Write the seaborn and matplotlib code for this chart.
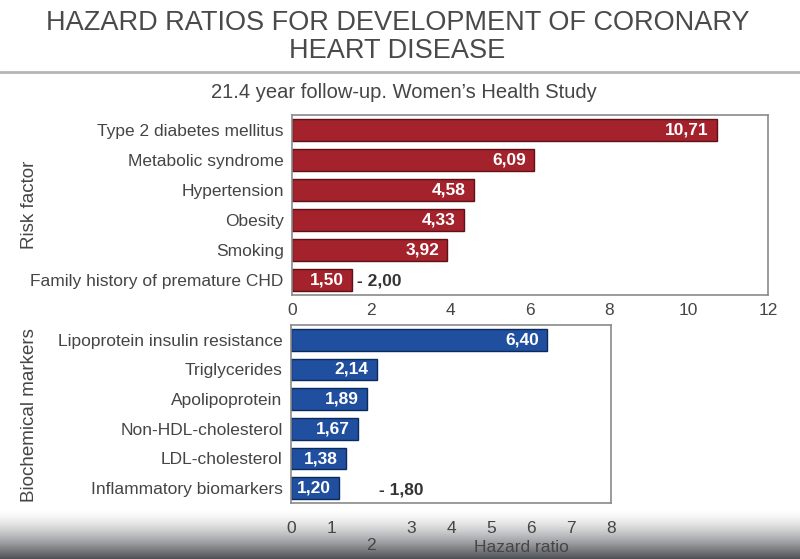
import numpy as np
import pandas as pd
import seaborn as sns
import matplotlib.pyplot as plt

# values
risk_factors = ["Type 2 diabetes mellitus", "Metabolic syndrome", "Hypertension",
                "Obesity", "Smoking", "Family history of premature CHD"]
risk_hr = [10.71, 6.09, 4.58, 4.33, 3.92, 1.50]
risk_upper = {"Family history of premature CHD": 2.00}

markers = ["Lipoprotein insulin resistance", "Triglycerides", "Apolipoprotein",
           "Non-HDL-cholesterol", "LDL-cholesterol", "Inflammatory biomarkers"]
marker_hr = [6.40, 2.14, 1.89, 1.67, 1.38, 1.20]
marker_upper = {"Inflammatory biomarkers": 1.80}

top_ticks = [0, 2, 4, 6, 8, 10, 12]
bottom_ticks = [0, 1, 2, 3, 4, 5, 6, 7, 8]

sns.set_style("white")
plt.rcParams["font.family"] = ["Liberation Sans", "DejaVu Sans"]

TXT = "#454545"
RED, RED_EDGE = "#a3222b", "#5e1116"
BLUE, BLUE_EDGE = "#1f4f9e", "#0c2a5c"


def fmt(v):
    return f"{v:.2f}".replace(".", ",")


fig = plt.figure(figsize=(8, 5.59), dpi=100)

fig.text(0.497, 1 - 37 / 559, "HAZARD RATIOS FOR DEVELOPMENT OF CORONARY\nHEART DISEASE",
         ha="center", va="center", fontsize=19.5, color="#4a4a4a", linespacing=1.08)
fig.add_artist(plt.Line2D([0, 1], [1 - 72 / 559] * 2, color="#b5b5b5", lw=2))
fig.text(0.505, 1 - 92 / 559, "21.4 year follow-up. Women\u2019s Health Study",
         ha="center", va="center", fontsize=14.5, color=TXT)


def panel(ax, cats, vals, upper, color, edge, xmax, ticks, ylabel, ly, xpad):
    df = pd.DataFrame({"cat": cats, "hr": vals})
    sns.barplot(data=df, x="hr", y="cat", orient="h", color=color,
                edgecolor=edge, linewidth=1, width=0.74, saturation=1, ax=ax)
    ax.set_xlim(0, xmax)
    ax.set_ylim(len(cats) - 0.5, -0.5)
    for i, v in enumerate(vals):
        ax.text(v - 0.2, i, fmt(v), ha="right", va="center", color="white",
                fontsize=12.5, fontweight="bold")
    for name, up in upper.items():
        i = cats.index(name)
        x = vals[i] + 0.15 if xmax > 10 else vals[i] + 1.0
        ax.text(x, i + 0.05, "- " + fmt(up), ha="left", va="center",
                color="#333333", fontsize=12.5, fontweight="bold")
    ax.set_xticks(ticks)
    ax.set_xlabel("")
    ax.set_ylabel(ylabel, fontsize=13.5, color=TXT)
    ax.yaxis.set_label_coords(38 / 800, 1 - ly / 559, transform=fig.transFigure)
    ax.tick_params(axis="both", length=0, colors=TXT, labelsize=12.5)
    ax.tick_params(axis="y", pad=6)
    ax.tick_params(axis="x", pad=xpad)
    for s in ax.spines.values():
        s.set_color("#8a8a8a")
        s.set_linewidth(1.2)


ax1 = fig.add_axes([292 / 800, 1 - 295 / 559, 476 / 800, 180 / 559])
panel(ax1, risk_factors, risk_hr, risk_upper, RED, RED_EDGE, 12, top_ticks,
      "Risk factor", 205, 6)

ax2 = fig.add_axes([291 / 800, 1 - 503 / 559, 320 / 800, 178 / 559])
panel(ax2, markers, marker_hr, marker_upper, BLUE, BLUE_EDGE, 8, bottom_ticks,
      "Biochemical markers", 415, 13)
# the "2" on the lower axis sits one row down on the slide
labels = [str(t) if t != 2 else "" for t in bottom_ticks]
ax2.set_xticklabels(labels)
ax2.text(2, -0.24, "2", transform=ax2.get_xaxis_transform(), ha="center",
         va="center", fontsize=12.5, color=TXT)
ax2.text(0.72, -0.25, "Hazard ratio", transform=ax2.transAxes, ha="center",
         va="center", fontsize=12.5, color=TXT)

# grey fade along the bottom (video overlay)
ov = fig.add_axes([0, 0, 1, 50 / 559], zorder=-1)
a = np.linspace(0, 1, 100) ** 1.5
rgba = np.zeros((100, 1, 4))
rgba[..., 0] = 0.30
rgba[..., 1] = 0.31
rgba[..., 2] = 0.33
rgba[..., 3] = a[:, None]
ov.imshow(rgba, aspect="auto", extent=[0, 1, 0, 1], origin="upper")
ov.axis("off")

fig.savefig("out.png", dpi=100)
